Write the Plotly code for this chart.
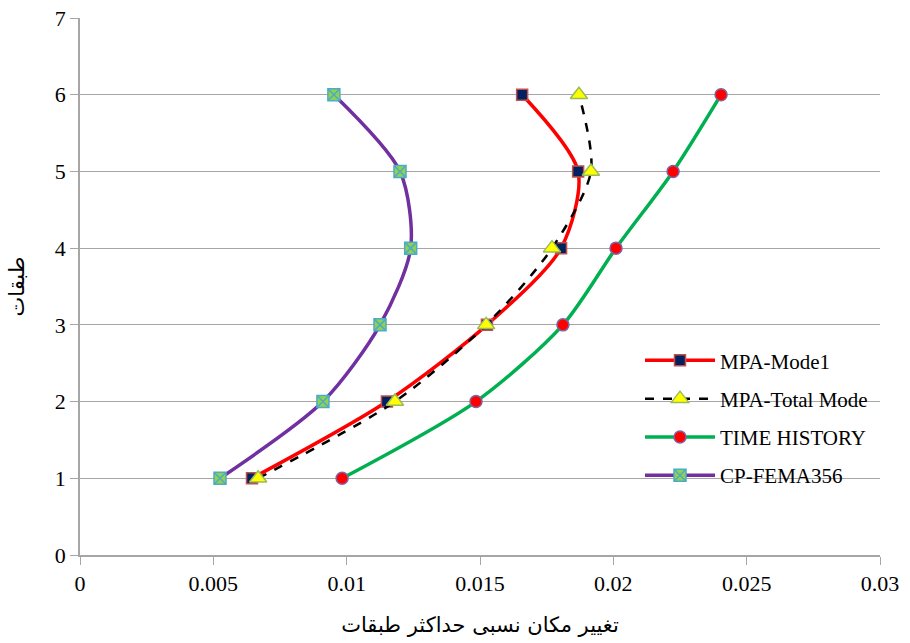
import plotly.graph_objects as go

floors = [1, 2, 3, 4, 5, 6]
mpa_mode1 = [0.00645, 0.01151, 0.01526, 0.01804, 0.01868, 0.01658]
mpa_total = [0.00668, 0.01181, 0.01523, 0.01770, 0.01916, 0.01871]
time_history = [0.00983, 0.01485, 0.01811, 0.02010, 0.02224, 0.02404]
cp_fema = [0.00525, 0.00911, 0.01125, 0.01240, 0.01200, 0.00952]

x_ticks = [0, 0.005, 0.01, 0.015, 0.02, 0.025, 0.03]
x_tick_labels = ["0", "0.005", "0.01", "0.015", "0.02", "0.025", "0.03"]
y_ticks = [0, 1, 2, 3, 4, 5, 6, 7]

x_title = "تغییر مکان نسبی حداکثر طبقات"
y_title = "طبقات"

FONT = "Liberation Serif, DejaVu Serif, DejaVu Sans, serif"
TICKFONT = dict(family="Liberation Serif, serif", size=22, color="#000000")

fig = go.Figure()
fig.add_trace(go.Scatter(
    x=mpa_mode1, y=floors, name="MPA-Mode1", mode="lines+markers", legendgroup="a",
    line=dict(color="#FF0000", width=3.5, shape="spline", smoothing=0.8),
    marker=dict(symbol="square", size=11, color="#002060",
                line=dict(color="#C0504D", width=1.5))))
fig.add_trace(go.Scatter(
    x=mpa_total, y=floors, name="MPA-Total Mode", mode="lines+markers", legendgroup="b",
    line=dict(color="#000000", width=2.5, dash="dash", shape="spline", smoothing=0.8),
    marker=dict(symbol="triangle-up", size=15, color="#FFFF00",
                line=dict(color="#9BBB59", width=1.5))))
fig.add_trace(go.Scatter(
    x=time_history, y=floors, name="TIME HISTORY", mode="lines+markers", legendgroup="c",
    line=dict(color="#00B050", width=3.5, shape="spline", smoothing=0.8),
    marker=dict(symbol="circle", size=12, color="#FF0000",
                line=dict(color="#8064A2", width=1.5))))
fig.add_trace(go.Scatter(
    x=cp_fema, y=floors, name="CP-FEMA356", mode="lines+markers", legendgroup="d",
    line=dict(color="#7030A0", width=3.5, shape="spline", smoothing=0.8),
    marker=dict(symbol="square-x", size=12, color="#92D050",
                line=dict(color="#4BACC6", width=1.5))))

fig.update_layout(
    width=910, height=643,
    margin=dict(l=80, r=30, t=18, b=88, autoexpand=False),
    paper_bgcolor="white", plot_bgcolor="white",
    font=dict(family=FONT, size=20, color="#000000"),
    showlegend=True,
    legend=dict(x=0.7, y=0.40, xanchor="left", yanchor="top",
                bgcolor="rgba(0,0,0,0)", itemwidth=70,
                font=dict(family="Liberation Serif, serif", size=21, color="#000000"),
                tracegroupgap=8),
)
fig.update_xaxes(
    range=[0, 0.03], tickvals=x_ticks, ticktext=x_tick_labels, tickfont=TICKFONT,
    automargin=False,
    showgrid=False, zeroline=False, showline=True, linecolor="#A6A6A6", linewidth=1.5,
    ticks="outside", ticklen=8, tickcolor="#A6A6A6",
    title=dict(text=x_title, font=dict(family="DejaVu Sans, sans-serif", size=21), standoff=22),
)
fig.update_yaxes(
    range=[0, 7], tickvals=y_ticks, tickfont=TICKFONT,
    automargin=False,
    showgrid=True, gridcolor="#A6A6A6", gridwidth=1.2,
    zeroline=False, showline=True, linecolor="#A6A6A6", linewidth=1.5,
    ticks="outside", ticklen=8, tickcolor="#A6A6A6",
    title=dict(text=y_title, font=dict(family="DejaVu Sans, sans-serif", size=21), standoff=24),
)

fig.write_html("out.html")
